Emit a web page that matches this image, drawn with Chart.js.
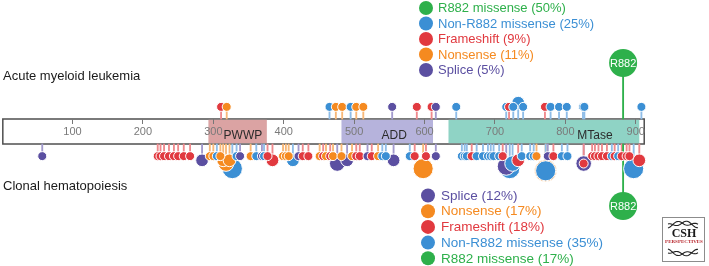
<!DOCTYPE html>
<html lang="en">
<head>
<meta charset="UTF-8">
<title>DNMT3A mutations: AML vs clonal hematopoiesis</title>
<script src="https://cdn.jsdelivr.net/npm/chart.js"></script>
<style>
  body { margin: 0; background: #fff; }
  #wrap { width: 709px; height: 266px; position: relative; }
</style>
</head>
<body>
<div id="wrap"><canvas id="lolli"></canvas></div>
<script>
// protein axis
const tickValues = [100, 200, 300, 400, 500, 600, 700, 800, 900];
const proteinLength = 912;
const domainNames = ['PWWP', 'ADD', 'MTase'];
const domainStart = [293, 482, 634];
const domainEnd = [376, 612, 905];
const domainLabelAt = [342, 557, 842];

// track titles and legends
const amlTitle = 'Acute myeloid leukemia';
const chTitle = 'Clonal hematopoiesis';
const amlLegend = ['R882 missense (50%)', 'Non-R882 missense (25%)', 'Frameshift (9%)', 'Nonsense (11%)', 'Splice (5%)'];
const amlLegendType = ['R', 'M', 'F', 'N', 'S'];
const chLegend = ['Splice (12%)', 'Nonsense (17%)', 'Frameshift (18%)', 'Non-R882 missense (35%)', 'R882 missense (17%)'];
const chLegendType = ['S', 'N', 'F', 'M', 'R'];

// hotspot
const hotspotPos = 882;
const hotspotLabel = 'R882';

// AML mutations (above the protein)
const amlPos   = [311, 319, 465, 474, 483, 495, 503, 513, 554, 589, 610, 616, 645, 716, 720, 726, 733, 740, 771, 779, 791, 802, 825, 827, 908];
const amlType  = ['F', 'N', 'M', 'N', 'N', 'M', 'N', 'N', 'S', 'F', 'F', 'S', 'M', 'M', 'F', 'M', 'M', 'M', 'F', 'M', 'M', 'M', 'M', 'M', 'M'];
const amlCount = [1, 1, 1, 1, 1, 1, 1, 1, 1, 1, 1, 1, 1, 1, 1, 1, 2, 1, 1, 1, 1, 1, 1, 1, 1];

// clonal hematopoiesis mutations (below the protein)
const chPos = [57, 221, 225, 230, 237, 244, 250, 258, 267, 284,
  295, 300, 305, 310, 314, 318, 323, 327, 333, 338,
  353, 361, 369, 372, 377, 384, 399, 403, 407, 413,
  421, 427, 435, 451, 456, 460, 466, 470, 476, 482,
  490, 497, 503, 508, 519, 525, 534, 540, 545, 556,
  579, 586, 598, 602, 616, 653, 657, 660, 667, 674,
  683, 690, 694, 698, 706, 711, 716, 721, 725, 733,
  738, 750, 755, 759, 772, 772, 775, 783, 795, 803,
  826, 826, 838, 842, 847, 852, 859, 866, 870, 875,
  880, 887, 891, 897, 905];
const chType = ['S', 'F', 'F', 'F', 'F', 'F', 'F', 'F', 'F', 'S',
  'N', 'N', 'M', 'N', 'N', 'N', 'N', 'M', 'M', 'S',
  'N', 'M', 'S', 'M', 'F', 'F', 'N', 'N', 'N', 'M',
  'S', 'F', 'F', 'N', 'F', 'N', 'F', 'N', 'S', 'N',
  'S', 'N', 'F', 'F', 'S', 'F', 'N', 'M', 'M', 'S',
  'M', 'F', 'N', 'F', 'S', 'M', 'M', 'M', 'F', 'M',
  'M', 'M', 'M', 'M', 'M', 'F', 'S', 'M', 'M', 'F',
  'M', 'M', 'M', 'N', 'N', 'M', 'S', 'F', 'M', 'M',
  'S', 'F', 'F', 'F', 'F', 'F', 'F', 'M', 'F', 'M',
  'F', 'F', 'F', 'M', 'F'];
const chCount = [1, 1, 1, 1, 1, 1, 1, 1, 1, 2,
  1, 1, 1, 1, 2, 3, 2, 5, 1, 1,
  1, 1, 1, 1, 1, 2, 1, 1, 1, 2,
  1, 1, 1, 1, 1, 1, 1, 1, 3, 1,
  2, 1, 1, 1, 1, 1, 1, 1, 1, 2,
  1, 1, 5, 1, 1, 1, 1, 1, 1, 1,
  1, 1, 1, 1, 1, 1, 4, 5, 3, 2,
  1, 1, 1, 1, 6, 5, 1, 1, 1, 1,
  3, 1, 1, 1, 1, 1, 1, 1, 1, 1,
  1, 1, 1, 5, 2];

// styles
const FONT = '"Liberation Sans", Arial, Helvetica, sans-serif';
const COLORS = { R: '#2eb04b', M: '#3b8fd4', F: '#e1393f', N: '#f58a20', S: '#5b4fa1' };
const STEM = { R: '#2eb04b', M: '#8fbde8', F: '#ef8a8d', N: '#f8b878', S: '#a29acd' };
const DOMAIN_COLORS = ['#dba3a3', '#b6b3dc', '#8fd3c5'];
const BAR_TOP = 119, BAR_BOTTOM = 144;
const HOT_R = 14, HOT_LIFT_TOP = 56, HOT_LIFT_BOTTOM = 62;

const radius = c => 4.5 * Math.sqrt(c);
const lift = r => 2 + 2.25 * r;

function buildTrack(pos, type, count, edge, dir) {
  const maxR = {};
  pos.forEach((p, i) => { maxR[p] = Math.max(maxR[p] || 0, radius(count[i])); });
  const dots = pos.map((p, i) => ({ x: p, y: edge + dir * lift(maxR[p]), r: radius(count[i]), t: type[i] }));
  dots.sort((a, b) => b.r - a.r || a.x - b.x);
  const stems = pos.map((p, i) => ({ x: p, y: [edge, edge + dir * lift(maxR[p])], t: type[i] }));
  return { dots, stems };
}

const aml = buildTrack(amlPos, amlType, amlCount, BAR_TOP, -1);
const ch = buildTrack(chPos, chType, chCount, BAR_BOTTOM, 1);
const hotDots = [
  { x: hotspotPos, y: BAR_TOP - HOT_LIFT_TOP, r: HOT_R, t: 'R' },
  { x: hotspotPos, y: BAR_BOTTOM + HOT_LIFT_BOTTOM, r: HOT_R, t: 'R' }
];
const hotStems = [
  { x: hotspotPos, y: [BAR_TOP, BAR_TOP - HOT_LIFT_TOP], t: 'R' },
  { x: hotspotPos, y: [BAR_BOTTOM, BAR_BOTTOM + HOT_LIFT_BOTTOM], t: 'R' }
];

function drawLegend(ctx, labels, types, cx, y0, step, gap, size) {
  labels.forEach((lab, i) => {
    const cy = y0 + i * step;
    ctx.fillStyle = COLORS[types[i]];
    ctx.beginPath();
    ctx.arc(cx, cy, 7, 0, Math.PI * 2);
    ctx.fill();
    ctx.font = size + 'px ' + FONT;
    ctx.textAlign = 'left';
    ctx.textBaseline = 'middle';
    ctx.fillText(lab, cx + gap, cy + 0.5);
  });
}

function drawLogo(ctx) {
  ctx.strokeStyle = '#8c8c8c';
  ctx.lineWidth = 1;
  ctx.strokeRect(662.5, 217.5, 42, 44);
  // helix
  ctx.strokeStyle = '#222';
  ctx.lineWidth = 1.1;
  [[226, -1], [251, 1]].forEach(([yc, s]) => {
    for (let k = 0; k < 2; k++) {
      ctx.beginPath();
      for (let t = 0; t <= 30; t++) {
        const xx = 668 + t;
        const yy = yc + s * 3 * Math.sin(t / 30 * Math.PI) + (k ? 2 : -2) * Math.cos(t / 3);
        t ? ctx.lineTo(xx, yy) : ctx.moveTo(xx, yy);
      }
      ctx.stroke();
    }
  });
  ctx.fillStyle = '#1a1a1a';
  ctx.textAlign = 'center';
  ctx.textBaseline = 'middle';
  ctx.font = 'bold 12px "Liberation Serif", "DejaVu Serif", serif';
  ctx.fillText('CSH', 684, 234);
  ctx.fillStyle = '#b8262c';
  ctx.font = 'bold 5px "Liberation Serif", serif';
  ctx.fillText('PERSPECTIVES', 684, 242);
}

const proteinPlugin = {
  id: 'protein',
  beforeDraw(chart) {
    const { ctx, scales: { x, y } } = chart;
    const top = y.getPixelForValue(BAR_TOP), bot = y.getPixelForValue(BAR_BOTTOM);
    const x0 = x.getPixelForValue(1), x1 = x.getPixelForValue(proteinLength);
    ctx.save();
    ctx.fillStyle = '#fff';
    ctx.fillRect(x0, top, x1 - x0, bot - top);
    ctx.strokeStyle = '#4f4f4f';
    ctx.lineWidth = 1.5;
    ctx.strokeRect(x0, top, x1 - x0, bot - top);
    domainNames.forEach((n, i) => {
      const a = x.getPixelForValue(domainStart[i]), b = x.getPixelForValue(domainEnd[i]);
      ctx.fillStyle = DOMAIN_COLORS[i];
      ctx.fillRect(a, top + 0.8, b - a, bot - top - 1.6);
    });
    ctx.fillStyle = '#2b2b2b';
    ctx.font = '12px ' + FONT;
    ctx.textAlign = 'center';
    ctx.textBaseline = 'middle';
    domainNames.forEach((n, i) => ctx.fillText(n, x.getPixelForValue(domainLabelAt[i]), 136));
    ctx.fillStyle = '#1a1a1a';
    ctx.font = '13px ' + FONT;
    ctx.textAlign = 'left';
    ctx.fillText(amlTitle, 3, 76);
    ctx.fillText(chTitle, 3, 186);
    drawLegend(ctx, amlLegend, amlLegendType, 426, 8, 15.5, 12, 13);
    drawLegend(ctx, chLegend, chLegendType, 428, 195.5, 15.7, 13, 13.5);
    drawLogo(ctx);
    ctx.restore();
  },
  afterDatasetsDraw(chart) {
    const { ctx } = chart;
    ctx.save();
    ctx.fillStyle = '#fff';
    ctx.font = '11px ' + FONT;
    ctx.textAlign = 'center';
    ctx.textBaseline = 'middle';
    chart.getDatasetMeta(0).data.forEach(el => ctx.fillText(hotspotLabel, el.x, el.y + 0.5));
    ctx.restore();
  }
};

new Chart(document.getElementById('lolli'), {
  type: 'bubble',
  data: {
    datasets: [
      { type: 'bubble', data: hotDots, backgroundColor: COLORS.R, borderWidth: 0, order: 0 },
      {
        type: 'bubble',
        data: aml.dots.concat(ch.dots),
        backgroundColor: c => (c.raw ? COLORS[c.raw.t] : '#999'),
        borderColor: '#fff',
        borderWidth: 1,
        order: 1
      },
      {
        type: 'bar',
        data: aml.stems.concat(ch.stems, hotStems),
        backgroundColor: c => (c.raw ? STEM[c.raw.t] : '#ccc'),
        borderWidth: 0,
        barThickness: 1.2,
        order: 2
      }
    ]
  },
  options: {
    responsive: true,
    maintainAspectRatio: false,
    animation: false,
    events: [],
    layout: { padding: 0, autoPadding: false },
    plugins: { legend: { display: false }, tooltip: { enabled: false } },
    scales: {
      x: {
        type: 'linear',
        min: -3,
        max: 1004,
        offset: false,
        position: { y: BAR_TOP },
        afterBuildTicks: s => { s.ticks = tickValues.map(v => ({ value: v })); },
        border: { display: false },
        grid: { drawOnChartArea: false, drawTicks: true, tickLength: 5, color: '#777', offset: false },
        ticks: { color: '#7a7a7a', font: { family: FONT, size: 11 }, padding: 1, maxRotation: 0, autoSkip: false }
      },
      y: { type: 'linear', reverse: true, min: 0, max: 266, display: false }
    }
  },
  plugins: [proteinPlugin]
});
</script>
</body>
</html>
